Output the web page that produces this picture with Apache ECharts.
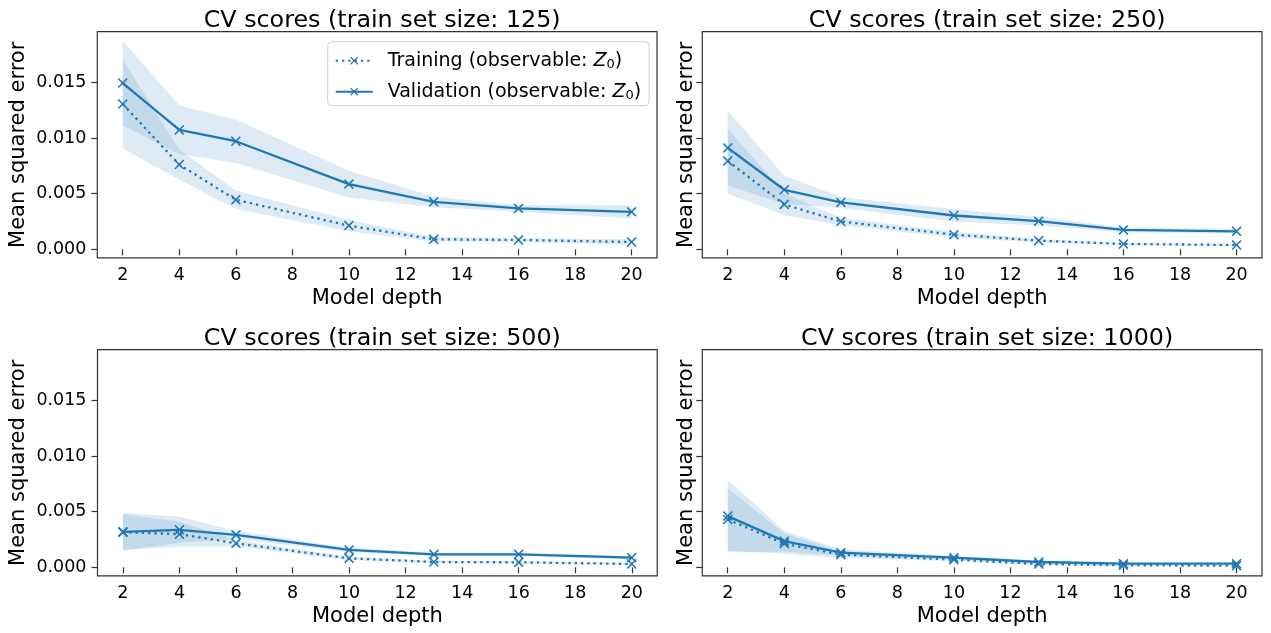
<!DOCTYPE html>
<html>
<head>
<meta charset="utf-8">
<script src="https://cdn.jsdelivr.net/npm/echarts@6/dist/echarts.min.js"></script>
<style>
  html, body { margin: 0; padding: 0; background: #fff; }
  #chart { width: 1271px; height: 633px; }
</style>
</head>
<body>
<div id="chart"></div>
<script>
const depths = [2, 4, 6, 10, 13, 16, 20];
const trainSizes = [125, 250, 500, 1000];
const xTicks = [2, 4, 6, 8, 10, 12, 14, 16, 18, 20];
const yTicks = [0, 0.005, 0.01, 0.015];

// mean and std of the CV scores, one array per train set size
const trainMean125 = [0.01305, 0.00761, 0.00445, 0.00213, 0.00090, 0.00084, 0.00066];
const trainStd125 = [0.0040, 0.00135, 0.00083, 0.0005, 0.0002, 0.00015, 0.00025];
const valMean125 = [0.01494, 0.01073, 0.00971, 0.00586, 0.00427, 0.00367, 0.00337];
const valStd125 = [0.0038, 0.0022, 0.00195, 0.0012, 0.00048, 0.0003, 0.0006];

const trainMean250 = [0.00794, 0.00403, 0.00250, 0.00132, 0.00078, 0.00048, 0.00039];
const trainStd250 = [0.00294, 0.00096, 0.00034, 0.00025, 0.00015, 0.0001, 0.00008];
const valMean250 = [0.00911, 0.00535, 0.00421, 0.00304, 0.00253, 0.00174, 0.00162];
const valStd250 = [0.00337, 0.00126, 0.0005, 0.00055, 0.0004, 0.0002, 0.0002];

const trainMean500 = [0.00316, 0.00298, 0.00216, 0.00081, 0.00048, 0.00045, 0.00030];
const trainStd500 = [0.0016, 0.00112, 0.0003, 0.00015, 0.0001, 0.0001, 0.00008];
const valMean500 = [0.00319, 0.00337, 0.00292, 0.00156, 0.00117, 0.00117, 0.00087];
const valStd500 = [0.00168, 0.00117, 0.00035, 0.0002, 0.00015, 0.00015, 0.00015];

const trainMean1000 = [0.00430, 0.00213, 0.00114, 0.00069, 0.00030, 0.00018, 0.00015];
const trainStd1000 = [0.0028, 0.0009, 0.0003, 0.00012, 0.00008, 0.00006, 0.00006];
const valMean1000 = [0.00460, 0.00235, 0.00132, 0.00087, 0.00048, 0.00033, 0.00033];
const valStd1000 = [0.00325, 0.00093, 0.0003, 0.00015, 0.0001, 0.00008, 0.00008];

const panels = [
  { train: trainMean125, trainStd: trainStd125, val: valMean125, valStd: valStd125 },
  { train: trainMean250, trainStd: trainStd250, val: valMean250, valStd: valStd250 },
  { train: trainMean500, trainStd: trainStd500, val: valMean500, valStd: valStd500 },
  { train: trainMean1000, trainStd: trainStd1000, val: valMean1000, valStd: valStd1000 },
];

const TRAIN_NAME = "Training (observable: Z0)";
const VAL_NAME = "Validation (observable: Z0)";
const BLUE = "#1f77b4";
const BAND = "rgba(31,119,180,0.15)";
const FONT = "DejaVu Sans";
const X_MARK = "path://M0,1.1L1.1,0L5,3.9L8.9,0L10,1.1L6.1,5L10,8.9L8.9,10L5,6.1L1.1,10L0,8.9L3.9,5Z";

const gridBoxes = [
  { left: 97.3, top: 31.7 },
  { left: 702.3, top: 31.7 },
  { left: 97.5, top: 349.7 },
  { left: 702.3, top: 349.7 },
];
const PW = 559.7;
const PH = 226.2;

function bandSeries(idx, mean, std) {
  return {
    type: "custom",
    xAxisIndex: idx,
    yAxisIndex: idx,
    silent: true,
    z: 1,
    data: depths.map((d, k) => [d, mean[k] - std[k], mean[k] + std[k]]),
    encode: { x: 0, y: [1, 2] },
    renderItem(params, api) {
      if (params.dataIndex !== 0) return null;
      const upper = depths.map((d, k) => api.coord([d, mean[k] + std[k]]));
      const lower = depths.map((d, k) => api.coord([d, mean[k] - std[k]])).reverse();
      return {
        type: "polygon",
        shape: { points: upper.concat(lower) },
        style: { fill: BAND },
      };
    },
  };
}

function lineSeries(idx, name, values, dotted) {
  return {
    type: "line",
    name,
    xAxisIndex: idx,
    yAxisIndex: idx,
    z: 3,
    data: depths.map((d, k) => [d, values[k]]),
    symbol: X_MARK,
    symbolSize: 10,
    showAllSymbol: true,
    lineStyle: { color: BLUE, width: 2.3, type: dotted ? [2.3, 4] : "solid" },
    itemStyle: { color: BLUE },
    animation: false,
  };
}

const titles = [];
const grids = [];
const xAxes = [];
const yAxes = [];
const series = [];

panels.forEach((p, i) => {
  const box = gridBoxes[i];
  const rightCol = i % 2 === 1;
  titles.push({
    text: "CV scores (train set size: " + trainSizes[i] + ")",
    left: box.left + PW / 2,
    top: box.top - 28.5,
    textAlign: "center",
    textStyle: { fontFamily: FONT, fontSize: 23.8, fontWeight: "normal", color: "#000", lineHeight: 26 },
  });
  grids.push({
    left: box.left,
    top: box.top,
    width: PW,
    height: PH,
    show: true,
    borderColor: "#333",
    borderWidth: 1.2,
    backgroundColor: "transparent",
  });
  xAxes.push({
    type: "value",
    gridIndex: i,
    min: 1.1,
    max: 20.9,
    name: "Model depth",
    nameLocation: "middle",
    nameGap: 30,
    nameTextStyle: { fontFamily: FONT, fontSize: 21, color: "#000" },
    axisLine: { show: false },
    splitLine: { show: false },
    axisTick: { show: true, customValues: xTicks, length: 6, lineStyle: { color: "#333", width: 1.2 } },
    axisLabel: {
      customValues: xTicks,
      margin: 9,
      fontFamily: FONT,
      fontSize: 17.5,
      color: "#000",
    },
  });
  yAxes.push({
    type: "value",
    gridIndex: i,
    min: -0.00077,
    max: 0.01955,
    name: "Mean squared error",
    nameLocation: "middle",
    nameGap: rightCol ? 5 : 68,
    nameTextStyle: { fontFamily: FONT, fontSize: 21, color: "#000" },
    axisLine: { show: false },
    splitLine: { show: false },
    axisTick: { show: true, customValues: yTicks, length: 6, lineStyle: { color: "#333", width: 1.2 } },
    axisLabel: {
      show: !rightCol,
      customValues: yTicks,
      margin: 11,
      fontFamily: FONT,
      fontSize: 17.5,
      color: "#000",
      formatter: (v) => v.toFixed(3),
    },
  });
  series.push(bandSeries(i, p.train, p.trainStd));
  series.push(bandSeries(i, p.val, p.valStd));
  series.push(lineSeries(i, TRAIN_NAME, p.train, true));
  series.push(lineSeries(i, VAL_NAME, p.val, false));
});

const chart = echarts.init(document.getElementById("chart"), null, { renderer: "canvas" });
chart.setOption({
  animation: false,
  backgroundColor: "#fff",
  title: titles,
  grid: grids,
  xAxis: xAxes,
  yAxis: yAxes,
  legend: {
    data: [TRAIN_NAME, VAL_NAME],
    orient: "vertical",
    left: 327.7,
    top: 41.7,
    itemWidth: 37,
    itemHeight: 10,
    itemGap: 10,
    padding: [8, 8, 4, 7],
    backgroundColor: "rgba(255,255,255,0.8)",
    borderColor: "#d0d0d0",
    borderWidth: 1,
    borderRadius: 4,
    selectedMode: false,
    formatter: (name) => name.replace("Z0", "{z|Z}{s|0}"),
    textStyle: {
      fontFamily: FONT,
      fontSize: 19,
      color: "#000",
      lineHeight: 20,
      padding: [0, 0, 0, 10],
      rich: {
        z: { fontFamily: FONT, fontSize: 19, fontStyle: "italic", color: "#000", lineHeight: 20 },
        s: { fontFamily: FONT, fontSize: 13, color: "#000", lineHeight: 20, verticalAlign: "bottom", padding: [8, 0, 0, 0] },
      },
    },
  },
  series,
});
</script>
</body>
</html>
